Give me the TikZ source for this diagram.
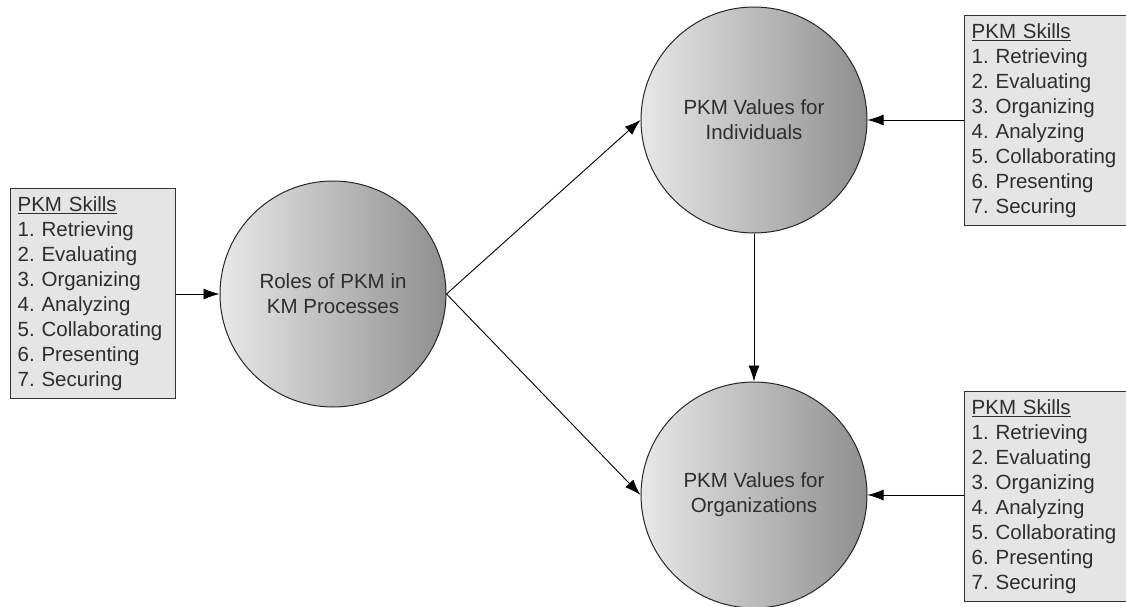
\documentclass[tikz,border=0pt]{standalone}
\usepackage{fontspec}
\setmainfont{Liberation Sans}
\usetikzlibrary{arrows.meta, positioning}
\frenchspacing

\begin{document}
\begin{tikzpicture}[
    x=1pt, y=-1pt,
    every node/.style={font=\fontsize{20.5}{25}\selectfont, text=black!82},
    skills/.style={draw=black!80, line width=1.3pt, fill=black!10, anchor=north west, align=left, text width=151pt, minimum width=165pt, minimum height=210pt, inner sep=7pt},
    valuecircle/.style={circle, draw=black!85, line width=1pt, left color=black!9, right color=black!44, minimum size=226pt, align=center, inner sep=0pt},
    arrow/.style={-{Latex[length=16pt, width=11pt]}, line width=0.9pt, black}
]
\useasboundingbox (0,0) rectangle (1126,607);
\newcommand{\skilllist}{\underline{PKM Skills}\\ 1. Retrieving\\ 2. Evaluating\\ 3. Organizing\\ 4. Analyzing\\ 5. Collaborating\\ 6. Presenting\\ 7. Securing}
\node[skills] (skillsL) at (10,188) {\skilllist};
\node[skills] (skillsT) at (964,15) {\skilllist};
\node[skills] (skillsB) at (964,391) {\skilllist};
\node[valuecircle] (roles) at (333,294) {Roles of PKM in\\ KM Processes};
\node[valuecircle] (indiv) at (754,120) {PKM Values for\\ Individuals};
\node[valuecircle] (orgs) at (754,495) {PKM Values for\\ Organizations};
\draw[arrow] (skillsL.east |- roles) -- (roles.west);
\draw[arrow] (roles.east) -- (indiv.west);
\draw[arrow] (roles.east) -- (orgs.west);
\draw[arrow] (indiv) -- (orgs);
\draw[arrow] (skillsT.west |- indiv) -- (indiv.east);
\draw[arrow] (skillsB.west |- orgs) -- (orgs.east);
\end{tikzpicture}
\end{document}
